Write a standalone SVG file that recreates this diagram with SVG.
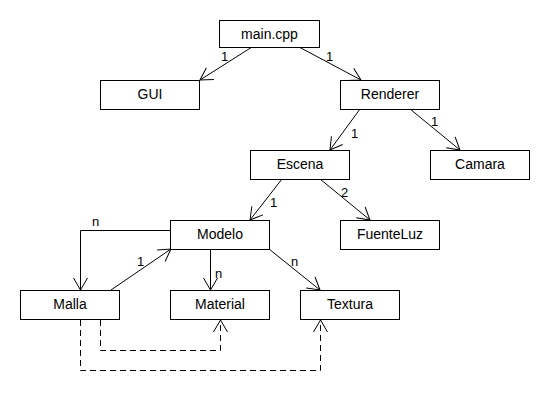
<svg xmlns="http://www.w3.org/2000/svg" width="550" height="410" viewBox="0 0 550 410">
<defs>
<marker id="open" markerUnits="userSpaceOnUse" markerWidth="20" markerHeight="20" refX="0" refY="0" orient="auto" viewBox="-14 -10 16 20" overflow="visible">
<path d="M-12,-7 L0,0 L-12,7" fill="none" stroke="#000" stroke-width="1"/>
</marker>
</defs>
<style>
.box{fill:#fff;stroke:#000;stroke-width:1}
.t{font-family:"Liberation Sans",Arial,sans-serif;font-size:14px;fill:#000;text-anchor:middle}
.l{font-family:"Liberation Sans",Arial,sans-serif;font-size:13px;fill:#000}
.c{fill:none;stroke:#000;stroke-width:1;marker-end:url(#open)}
.d{fill:none;stroke:#000;stroke-width:1;stroke-dasharray:6,4;marker-end:url(#open)}
</style>
<rect width="550" height="410" fill="#fff"/>
<g id="connectors">
<path class="c" d="M252,47 L200,80"/>
<path class="c" d="M299,47 L361,80"/>
<path class="c" d="M360,109 L330,150"/>
<path class="c" d="M410,109 L460,150"/>
<path class="c" d="M282,179 L250,220"/>
<path class="c" d="M320,179 L370,220"/>
<path class="c" d="M170,230.5 L80.5,230.5 L80.5,290"/>
<path class="c" d="M111,290 L171,249"/>
<path class="c" d="M210.5,249 L210.5,290"/>
<path class="c" d="M269,249 L320,290"/>
<path class="d" d="M100.5,320 L100.5,350.5 L220.5,350.5 L220.5,320"/>
<path class="d" d="M80.5,320 L80.5,370.5 L320.5,370.5 L320.5,320"/>
<text class="l" x="221" y="60.5">1</text>
<text class="l" x="326" y="60.5">1</text>
<text class="l" x="351" y="137.5">1</text>
<text class="l" x="431" y="126">1</text>
<text class="l" x="270" y="206.5">1</text>
<text class="l" x="341" y="197">2</text>
<text class="l" x="92" y="226">n</text>
<text class="l" x="137" y="265.5">1</text>
<text class="l" x="215" y="278">n</text>
<text class="l" x="291" y="266">n</text>
</g>
<g id="main"><rect class="box" x="219.5" y="20.5" width="100" height="27"/><text class="t" x="269.5" y="39">main.cpp</text></g>
<g id="gui"><rect class="box" x="100.5" y="80.5" width="99" height="29"/><text class="t" x="150" y="99">GUI</text></g>
<g id="renderer"><rect class="box" x="340.5" y="80.5" width="99" height="29"/><text class="t" x="390" y="99">Renderer</text></g>
<g id="escena"><rect class="box" x="250.5" y="150.5" width="99" height="29"/><text class="t" x="300" y="169">Escena</text></g>
<g id="camara"><rect class="box" x="430.5" y="150.5" width="99" height="29"/><text class="t" x="480" y="169">Camara</text></g>
<g id="fuenteluz"><rect class="box" x="340.5" y="220.5" width="99" height="29"/><text class="t" x="390" y="239">FuenteLuz</text></g>
<g id="modelo"><rect class="box" x="170.5" y="220.5" width="99" height="29"/><text class="t" x="220" y="239">Modelo</text></g>
<g id="malla"><rect class="box" x="20.5" y="290.5" width="99" height="29"/><text class="t" x="70" y="309">Malla</text></g>
<g id="material"><rect class="box" x="170.5" y="290.5" width="99" height="29"/><text class="t" x="220" y="309">Material</text></g>
<g id="textura"><rect class="box" x="300.5" y="290.5" width="99" height="29"/><text class="t" x="350" y="309">Textura</text></g>
</svg>
